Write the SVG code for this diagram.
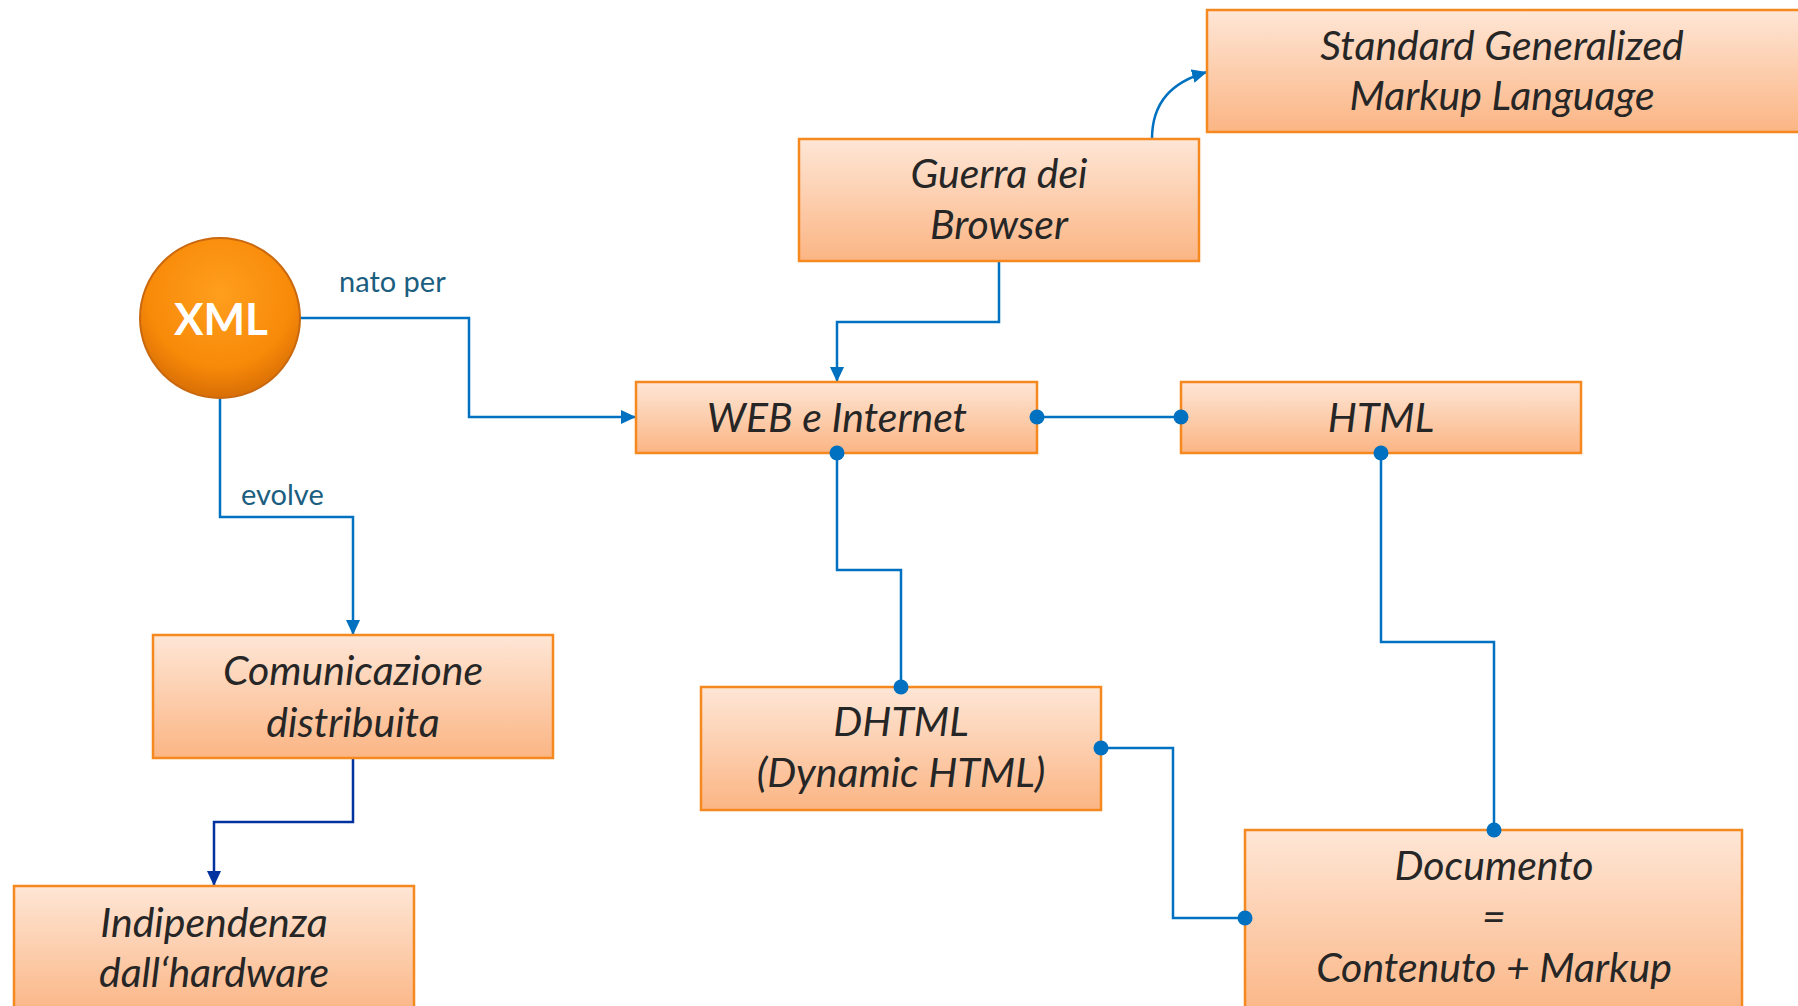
<svg xmlns="http://www.w3.org/2000/svg" width="1798" height="1006" viewBox="0 0 1798 1006">
<style>
.box{fill:url(#boxGrad);stroke:#F5881F;stroke-width:2.5}
.bt{font-family:Lato,"Noto Sans",sans-serif;font-style:italic;font-size:41px;fill:#262626;text-anchor:middle}
.lbl{font-family:Lato,"Noto Sans",sans-serif;font-size:29px;fill:#1B5E80}
.conn{fill:none;stroke:#0070C0;stroke-width:2.5}
.conn2{fill:none;stroke:#0033A0;stroke-width:2.5}
.dot{fill:#0070C0}
</style>
<defs>
<linearGradient id="boxGrad" x1="0" y1="0" x2="0" y2="1">
<stop offset="0" stop-color="#FEE6D6"/>
<stop offset="1" stop-color="#FBB584"/>
</linearGradient>
<radialGradient id="xmlGrad" cx="0.5" cy="0.35" r="0.65">
<stop offset="0" stop-color="#FF9E1E"/>
<stop offset="0.7" stop-color="#F88A08"/>
<stop offset="1" stop-color="#D86E06"/>
</radialGradient>
<marker id="arr" markerUnits="userSpaceOnUse" markerWidth="16" markerHeight="14" refX="15" refY="7" orient="auto">
<path d="M0,0 L15,7 L0,14 z" fill="#0070C0"/>
</marker>
<marker id="arr2" markerUnits="userSpaceOnUse" markerWidth="16" markerHeight="14" refX="15" refY="7" orient="auto">
<path d="M0,0 L15,7 L0,14 z" fill="#0033A0"/>
</marker>
</defs>

<g id="connectors">
<path class="conn" d="M300,318 H469 V417 H636" marker-end="url(#arr)"/>
<path class="conn" d="M220,398 V517 H353 V635" marker-end="url(#arr)"/>
<path class="conn" d="M999,261 V322 H837 V382" marker-end="url(#arr)"/>
<path class="conn" d="M1152,139 C1152,102 1172,82 1207,72" marker-end="url(#arr)"/>
<path class="conn2" d="M353,758 V822 H214 V886" marker-end="url(#arr2)"/>
<path class="conn" d="M1037,417 H1181"/>
<path class="conn" d="M837,453 V570 H901 V687"/>
<path class="conn" d="M1381,453 V642 H1494 V830"/>
<path class="conn" d="M1101,748 H1173 V918 H1245"/>
<text class="lbl" x="339" y="292">nato per</text>
<text class="lbl" x="241" y="505">evolve</text>
</g>

<g id="xml">
<circle cx="220" cy="318" r="80" fill="url(#xmlGrad)" stroke="#C9680E" stroke-width="2"/>
<text x="221" y="335" font-family="Lato,'Noto Sans',sans-serif" font-weight="bold" font-size="44" fill="#FFFFFF" text-anchor="middle">XML</text>
</g>

<g id="sgml">
<rect class="box" x="1207" y="10" width="600" height="122"/>
<text class="bt" x="1502" y="60">Standard Generalized</text>
<text class="bt" x="1502" y="110">Markup Language</text>
</g>

<g id="guerra">
<rect class="box" x="799" y="139" width="400" height="122"/>
<text class="bt" x="999" y="188">Guerra dei</text>
<text class="bt" x="999" y="239">Browser</text>
</g>

<g id="web">
<rect class="box" x="636" y="382" width="401" height="71"/>
<text class="bt" x="837" y="432">WEB e Internet</text>
</g>

<g id="html">
<rect class="box" x="1181" y="382" width="400" height="71"/>
<text class="bt" x="1381" y="432">HTML</text>
</g>

<g id="comunicazione">
<rect class="box" x="153" y="635" width="400" height="123"/>
<text class="bt" x="353" y="685">Comunicazione</text>
<text class="bt" x="353" y="737">distribuita</text>
</g>

<g id="indipendenza">
<rect class="box" x="14" y="886" width="400" height="130"/>
<text class="bt" x="214" y="937">Indipendenza</text>
<text class="bt" x="214" y="987">dall‘hardware</text>
</g>

<g id="dhtml">
<rect class="box" x="701" y="687" width="400" height="123"/>
<text class="bt" x="901" y="736">DHTML</text>
<text class="bt" x="901" y="787">(Dynamic HTML)</text>
</g>

<g id="documento">
<rect class="box" x="1245" y="830" width="497" height="190"/>
<text class="bt" x="1494" y="880">Documento</text>
<text class="bt" x="1494" y="931">=</text>
<text class="bt" x="1494" y="982">Contenuto + Markup</text>
</g>

<g id="dots">
<circle class="dot" cx="1037" cy="417" r="7.5"/>
<circle class="dot" cx="1181" cy="417" r="7.5"/>
<circle class="dot" cx="837" cy="453" r="7.5"/>
<circle class="dot" cx="901" cy="687" r="7.5"/>
<circle class="dot" cx="1381" cy="453" r="7.5"/>
<circle class="dot" cx="1494" cy="830" r="7.5"/>
<circle class="dot" cx="1101" cy="748" r="7.5"/>
<circle class="dot" cx="1245" cy="918" r="7.5"/>
</g>
</svg>
